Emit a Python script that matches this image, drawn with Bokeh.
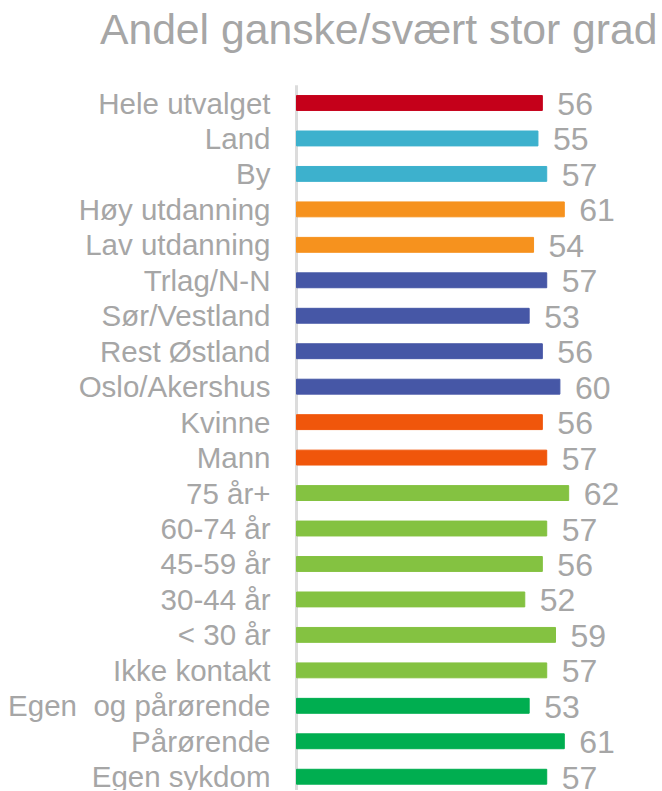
from bokeh.plotting import figure
from bokeh.models import Range1d, ColumnDataSource, Label
from bokeh.embed import file_html
from bokeh.resources import INLINE
from bokeh.core.properties import value

title_text = "Andel ganske/svært stor grad"

categories = [
    "Hele utvalget", "Land", "By", "Høy utdanning", "Lav utdanning",
    "Trlag/N-N", "Sør/Vestland", "Rest Østland", "Oslo/Akershus",
    "Kvinne", "Mann", "75 år+", "60-74 år", "45-59 år", "30-44 år",
    "< 30 år", "Ikke kontakt", "Egen\u00a0 og pårørende", "Pårørende", "Egen sykdom",
]
values = [56, 55, 57, 61, 54, 57, 53, 56, 60, 56, 57, 62, 57, 56, 52, 59, 57, 53, 61, 57]
groups = ["total", "bosted", "bosted", "utd", "utd", "region", "region", "region", "region",
          "kjonn", "kjonn", "alder", "alder", "alder", "alder", "alder", "kontakt",
          "sykdom", "sykdom", "sykdom"]
group_colors = {
    "total": "#C5001A",
    "bosted": "#3DB1CD",
    "utd": "#F6921E",
    "region": "#4657A6",
    "kjonn": "#F0560B",
    "alder": "#84C241",
    "kontakt": "#84C241",
    "sykdom": "#00AE50",
}

n = len(categories)
idx = list(range(n))
src = ColumnDataSource(dict(
    y=idx,
    v=values,
    zero=[0] * n,
    lbl=[str(v) for v in values],
    cat=categories,
    color=[group_colors[g] for g in groups],
))

FONT = "Liberation Sans"
GRAY = "#a6a6a6"

W, H = 661, 790
PX_PER_UNIT = 4.39      # horizontal scale (pixels per percentage point)
ROW_PX = 35.46          # vertical pitch of one category row
ZERO_X = 296            # pixel position of the value 0 inside the figure
FIRST_ROW_Y = 102.5     # pixel position of the first row centre inside the figure

x_range = Range1d(-ZERO_X / PX_PER_UNIT, (W - ZERO_X) / PX_PER_UNIT)
y_range = Range1d((H - FIRST_ROW_Y) / ROW_PX, -FIRST_ROW_Y / ROW_PX)

p = figure(width=W, height=H, output_backend="svg", toolbar_location=None, title=None,
           x_range=x_range, y_range=y_range, x_axis_type=None, y_axis_type=None,
           min_border_left=0, min_border_right=0, min_border_top=0, min_border_bottom=0)
p.xgrid.visible = False
p.ygrid.visible = False
p.outline_line_color = None

# vertical category axis line
p.segment(x0=[0], y0=[-0.5], x1=[0], y1=[n - 0.5], line_color="#dcdcdc", line_width=3)

# bars
p.hbar(y="y", left="zero", right="v", height=0.42, color="color", source=src)

# value labels
p.text(x="v", y="y", text="lbl", source=src, x_offset=15, y_offset=1,
       text_font=value(FONT), text_font_size="32px", text_color=GRAY,
       text_align="left", text_baseline="alphabetic")

# category labels
p.text(x="zero", y="y", text="cat", source=src, x_offset=-26, y_offset=0,
       text_font=value(FONT), text_font_size="29.5px", text_color=GRAY,
       text_align="right", text_baseline="middle")

# title
title_y = -0.5 - (85 - 43.3 + 15) / ROW_PX
title_x = (W - 4 - ZERO_X) / PX_PER_UNIT
p.add_layout(Label(x=title_x, y=title_y, text=title_text, text_align="right",
                   text_baseline="alphabetic", text_font=FONT, text_font_size="42.7px",
                   text_color=GRAY))

open("out.html", "w").write(file_html(p, INLINE))
